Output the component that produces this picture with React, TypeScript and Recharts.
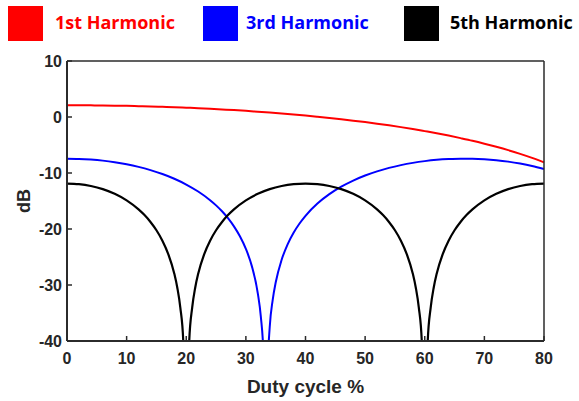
import { LineChart, Line, XAxis, YAxis } from "recharts";

// duty cycle (%) sample points and harmonic levels (dB)
const duty1 = [
  0, 2, 4, 6, 8, 10, 12, 14, 16, 18, 20, 22, 24, 26, 28, 30, 32, 34, 36, 38, 40,
  42, 44, 46, 48, 50, 52, 54, 56, 58, 60, 62, 64, 66, 68, 70, 72, 74, 76, 78, 80,
];
const db1 = [
  2.1, 2.1, 2.08, 2.06, 2.03, 1.99, 1.94, 1.89, 1.82, 1.75, 1.66, 1.57, 1.47,
  1.35, 1.23, 1.1, 0.95, 0.8, 0.63, 0.45, 0.26, 0.05, -0.17, -0.4, -0.65, -0.91,
  -1.19, -1.49, -1.81, -2.15, -2.52, -2.9, -3.32, -3.77, -4.24, -4.76, -5.32,
  -5.92, -6.58, -7.3, -8.1,
];

const duty3 = [
  0, 2, 4, 6, 8, 10, 12, 14, 16, 18, 20, 22, 24, 25, 26, 27, 28, 29, 30, 31, 32,
  32.5, 33, 33.33, 33.5, 34, 34.5, 35, 36, 37, 38, 39, 40, 42, 44, 46, 48, 50,
  52, 54, 56, 58, 60, 62, 64, 66, 68, 70, 72, 74, 76, 78, 80,
];
const db3 = [
  -7.44, -7.48, -7.6, -7.79, -8.07, -8.44, -8.91, -9.49, -10.19, -11.03, -12.06,
  -13.31, -14.86, -15.78, -16.84, -18.07, -19.53, -21.3, -23.55, -26.63, -31.48,
  -35.56, -43.52, -60, -49.5, -37.5, -32.64, -29.55, -25.48, -22.73, -20.67,
  -19.01, -17.64, -15.46, -13.78, -12.44, -11.35, -10.45, -9.71, -9.09, -8.59,
  -8.19, -7.88, -7.65, -7.51, -7.44, -7.46, -7.55, -7.72, -7.97, -8.31, -8.74,
  -9.28,
];

const duty5 = [
  0, 2, 4, 6, 8, 10, 12, 13, 14, 15, 16, 17, 18, 18.5, 19, 19.5, 20, 20.5, 21,
  21.5, 22, 23, 24, 25, 26, 27, 28, 30, 32, 34, 36, 38, 40, 42, 44, 46, 48, 50,
  52, 53, 54, 55, 56, 57, 58, 58.5, 59, 59.5, 60, 60.5, 61, 61.5, 62, 63, 64,
  65, 66, 67, 68, 70, 72, 74, 76, 78, 80,
];
const db5 = [
  -11.88, -11.99, -12.32, -12.88, -13.72, -14.89, -16.5, -17.52, -18.74, -20.22,
  -22.08, -24.52, -27.99, -30.48, -33.99, -40, -60, -40, -33.99, -30.48, -27.99,
  -24.52, -22.08, -20.22, -18.74, -17.52, -16.5, -14.89, -13.72, -12.88, -12.32,
  -11.99, -11.88, -11.99, -12.32, -12.88, -13.72, -14.89, -16.5, -17.52, -18.74,
  -20.22, -22.08, -24.52, -27.99, -30.48, -33.99, -40, -60, -40, -33.99, -30.48,
  -27.99, -24.52, -22.08, -20.22, -18.74, -17.52, -16.5, -14.89, -13.72, -12.88,
  -12.32, -11.99, -11.88,
];

const xTicks = [0, 10, 20, 30, 40, 50, 60, 70, 80];
const yTicks = [-40, -30, -20, -10, 0, 10];

const seriesNames = ["1st Harmonic", "3rd Harmonic", "5th Harmonic"];
const seriesColors = ["#ff0000", "#0000ff", "#000000"];

const toPoints = (xs: number[], ys: number[]) =>
  xs.map((x, i) => ({ x, y: ys[i] }));

const h1 = toPoints(duty1, db1);
const h3 = toPoints(duty3, db3);
const h5 = toPoints(duty5, db5);

const axisFont = "'Liberation Sans', Arial, sans-serif";
const tickStyle = { fontFamily: axisFont, fontSize: 16, fontWeight: 700, fill: "#262626" };
const frame = "#2b2b2b";

// legend swatch / text left edges
const legendBoxX = [8, 203, 404];
const legendTextX = [55, 246, 450];

export default function App() {
  return (
    <div style={{ position: "absolute", left: 0, top: 0, width: 579, height: 401, background: "#fff" }}>
      {seriesNames.map((name, i) => (
        <div key={name}>
          <div
            style={{
              position: "absolute",
              left: legendBoxX[i],
              top: 6,
              width: 35,
              height: 35,
              background: seriesColors[i],
            }}
          />
          <div
            style={{
              position: "absolute",
              left: legendTextX[i],
              top: 9,
              fontFamily: "'Open Sans', sans-serif",
              fontWeight: 700,
              fontSize: 18,
              lineHeight: "26px",
              color: seriesColors[i],
              whiteSpace: "nowrap",
            }}
          >
            {name}
          </div>
        </div>
      ))}
      <LineChart width={579} height={401} margin={{ top: 60, right: 34, bottom: 0, left: 0 }}>
        <XAxis
          dataKey="x"
          type="number"
          domain={[0, 80]}
          ticks={xTicks}
          height={60}
          tickSize={-5}
          tickMargin={17}
          tick={tickStyle}
          stroke={frame}
          axisLine={{ stroke: frame, strokeWidth: 2 }}
          tickLine={{ stroke: frame, strokeWidth: 1.5 }}
          label={{
            value: "Duty cycle %",
            position: "insideBottom",
            offset: 8,
            style: { fontFamily: axisFont, fontSize: 19, fontWeight: 700, fill: "#262626" },
          }}
        />
        <XAxis
          xAxisId="top"
          orientation="top"
          dataKey="x"
          type="number"
          domain={[0, 80]}
          ticks={xTicks}
          height={1}
          tickSize={-5}
          tick={false}
          axisLine={{ stroke: frame, strokeWidth: 1.5 }}
          tickLine={{ stroke: frame, strokeWidth: 1.5 }}
        />
        <YAxis
          type="number"
          domain={[-40, 10]}
          ticks={yTicks}
          allowDataOverflow
          width={67}
          tickSize={-5}
          tickMargin={10}
          tick={tickStyle}
          axisLine={{ stroke: frame, strokeWidth: 2 }}
          tickLine={{ stroke: frame, strokeWidth: 1.5 }}
          label={{
            value: "dB",
            angle: -90,
            position: "insideLeft",
            offset: 24,
            style: { textAnchor: "middle", fontFamily: axisFont, fontSize: 18, fontWeight: 700, fill: "#262626" },
          }}
        />
        <YAxis
          yAxisId="right"
          orientation="right"
          type="number"
          domain={[-40, 10]}
          ticks={yTicks}
          width={1}
          tickSize={-5}
          tick={false}
          axisLine={{ stroke: frame, strokeWidth: 1.5 }}
          tickLine={{ stroke: frame, strokeWidth: 1.5 }}
        />
        <Line data={h1} dataKey="y" type="monotone" stroke={seriesColors[0]} strokeWidth={2} dot={false} isAnimationActive={false} />
        <Line data={h3} dataKey="y" type="monotone" stroke={seriesColors[1]} strokeWidth={2} dot={false} isAnimationActive={false} />
        <Line data={h5} dataKey="y" type="monotone" stroke={seriesColors[2]} strokeWidth={2.2} dot={false} isAnimationActive={false} />
      </LineChart>
    </div>
  );
}
